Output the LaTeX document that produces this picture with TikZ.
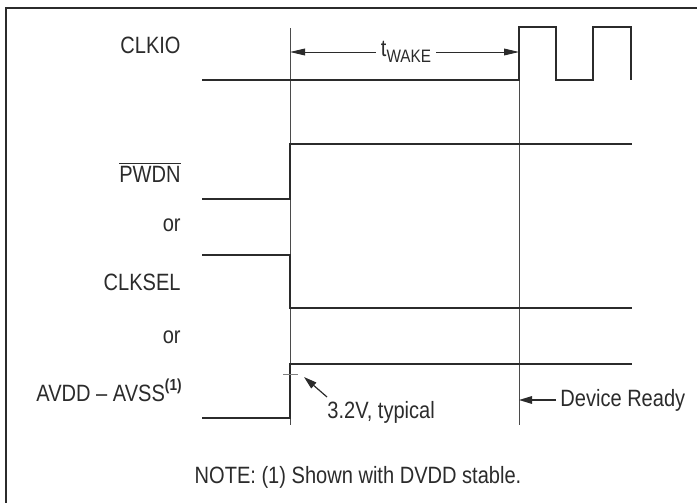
\documentclass[tikz,border=0pt]{standalone}
\usepackage{fontspec}
\setmainfont{Liberation Sans}[FakeStretch=0.85]
\usepackage{tikz}
\usetikzlibrary{arrows.meta, positioning, calc}
\usepackage{xcolor}
\definecolor{inkgray}{HTML}{2B2B2B}

\begin{document}
\begin{tikzpicture}[
    x=0.5pt, y=-0.5pt,
    every node/.style={font=\fontsize{11.8}{14}\selectfont, text=inkgray},
    sigline/.style={line width=1.1pt, draw=inkgray},
    guide/.style={line width=0.45pt, draw=inkgray!85},
    frameline/.style={line width=0.8pt, draw=inkgray},
    siglabel/.style={anchor=east, inner sep=0pt},
    dimarrow/.style={-{Stealth[length=7.5pt, width=3.4pt, inset=0pt]}, line width=0.5pt, draw=inkgray},
    pointer/.style={-{Stealth[length=6.5pt, width=3.8pt, inset=0pt]}, line width=0.6pt, draw=inkgray}
]
    \useasboundingbox (0,0) rectangle (697,503);

    % Frame
    \draw[frameline] (6,503) -- (6,8) -- (697,8);

    % Signal names
    \node[siglabel] (clkio) at (181,45) {CLKIO};
    \node[siglabel] (pwdn) at (181,172) {$\overline{\mbox{PWDN}}$};
    \node[siglabel] (or1) at (181,225) {or};
    \node[siglabel] (clksel) at (181,282) {CLKSEL};
    \node[siglabel] (or2) at (181,337) {or};
    \node[siglabel] (avdd) at (182,390) {AVDD -- AVSS\raisebox{0.9ex}{\fontsize{8}{9}\selectfont\bfseries(1)}};

    % Timing guides
    \coordinate (g1top) at (290,28);
    \coordinate (g1bot) at (290,425);
    \coordinate (g2top) at (519,28);
    \coordinate (g2bot) at (519,425);
    \draw[guide] (g1top) -- (g1bot);
    \draw[guide] (g2top) -- (g2bot);

    % Waveforms
    \draw[sigline] (202,80) -- (519,80) -- (519,27) -- (556,27) -- (556,80)
        -- (593,80) -- (593,27) -- (631,27) -- (631,80);
    \draw[sigline] (202,199) -- (290,199) -- (290,144) -- (632,144);
    \draw[sigline] (202,255) -- (290,255) -- (290,308) -- (632,308);
    \draw[sigline] (202,418) -- (290,418) -- (290,364) -- (632,364);

    % t_WAKE
    \node[inner sep=2.5pt] (twake) at (406,52) {t\raisebox{-0.45ex}{\fontsize{9}{10}\selectfont WAKE}};
    \draw[dimarrow] (twake) -- (g1top |- twake);
    \draw[dimarrow] (twake) -- (g2top |- twake);

    % Threshold
    \coordinate (tickl) at (283,374);
    \coordinate (tickr) at (298,374);
    \draw[line width=0.5pt, draw=inkgray!60] (tickl) -- (tickr);
    \node[anchor=west, inner sep=0pt] (typ) at (327,412) {3.2V, typical};
    \coordinate (typtail) at (327,397);
    \coordinate (typtip) at (304,377);
    \draw[pointer] (typtail) -- (typtip);

    % Device ready
    \node[anchor=west, inner sep=2pt] (ready) at (556,400) {Device Ready};
    \draw[pointer] (ready.west) -- (g2top |- ready.west);

    % Note
    \node (note) at (358,477) {NOTE: (1) Shown with DVDD stable.};
\end{tikzpicture}
\end{document}
